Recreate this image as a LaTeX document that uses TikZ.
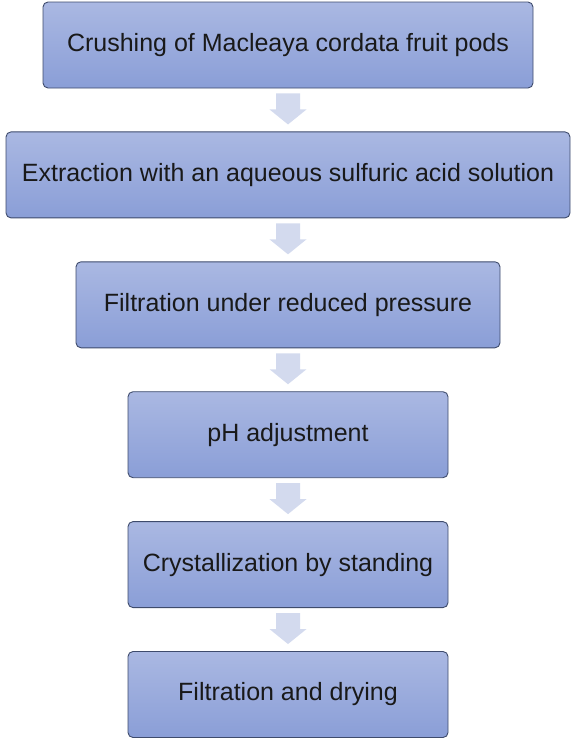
\documentclass[tikz,border=0pt]{standalone}
\usepackage{fontspec}
\setmainfont{Liberation Sans}
\usetikzlibrary{positioning,calc}

\definecolor{boxtop}{HTML}{AAB8E2}
\definecolor{boxbot}{HTML}{8A9ED7}
\definecolor{boxline}{HTML}{3E4B6C}
\definecolor{arrowfill}{HTML}{D3DAEE}

\tikzset{
  stepbox/.style={draw=boxline, line width=0.9pt, rounded corners=5pt,
    top color=boxtop, bottom color=boxbot, minimum height=86pt, inner sep=0pt,
    font=\fontsize{25}{30}\selectfont, text=black!90},
}

\begin{document}
\begin{tikzpicture}[x=1pt,y=-1pt]
  \useasboundingbox (0,0) rectangle (579,742);

  % Process steps
  \node[stepbox, minimum width=490pt] (crush) at (288,45) {Crushing of Macleaya cordata fruit pods};
  \node[stepbox, minimum width=564pt, below=43pt of crush] (extract) {Extraction with an aqueous sulfuric acid solution};
  \node[stepbox, minimum width=424pt, below=43pt of extract] (filter) {Filtration under reduced pressure};
  \node[stepbox, minimum width=320pt, below=43pt of filter] (ph) {pH adjustment};
  \node[stepbox, minimum width=320pt, below=43pt of ph] (cryst) {Crystallization by standing};
  \node[stepbox, minimum width=320pt, below=43pt of cryst] (dry) {Filtration and drying};

  % Block arrows between steps
  \foreach \a/\b in {crush/extract, extract/filter, filter/ph, ph/cryst, cryst/dry}
    \fill[arrowfill] ($(\a.south)+(-12,5)$) -- ($(\a.south)+(12,5)$) -- ($(\a.south)+(12,21)$)
      -- ($(\a.south)+(18.5,21)$) -- ($(\b.north)+(0,-7)$) -- ($(\a.south)+(-18.5,21)$)
      -- ($(\a.south)+(-12,21)$) -- cycle;

\end{tikzpicture}
\end{document}
